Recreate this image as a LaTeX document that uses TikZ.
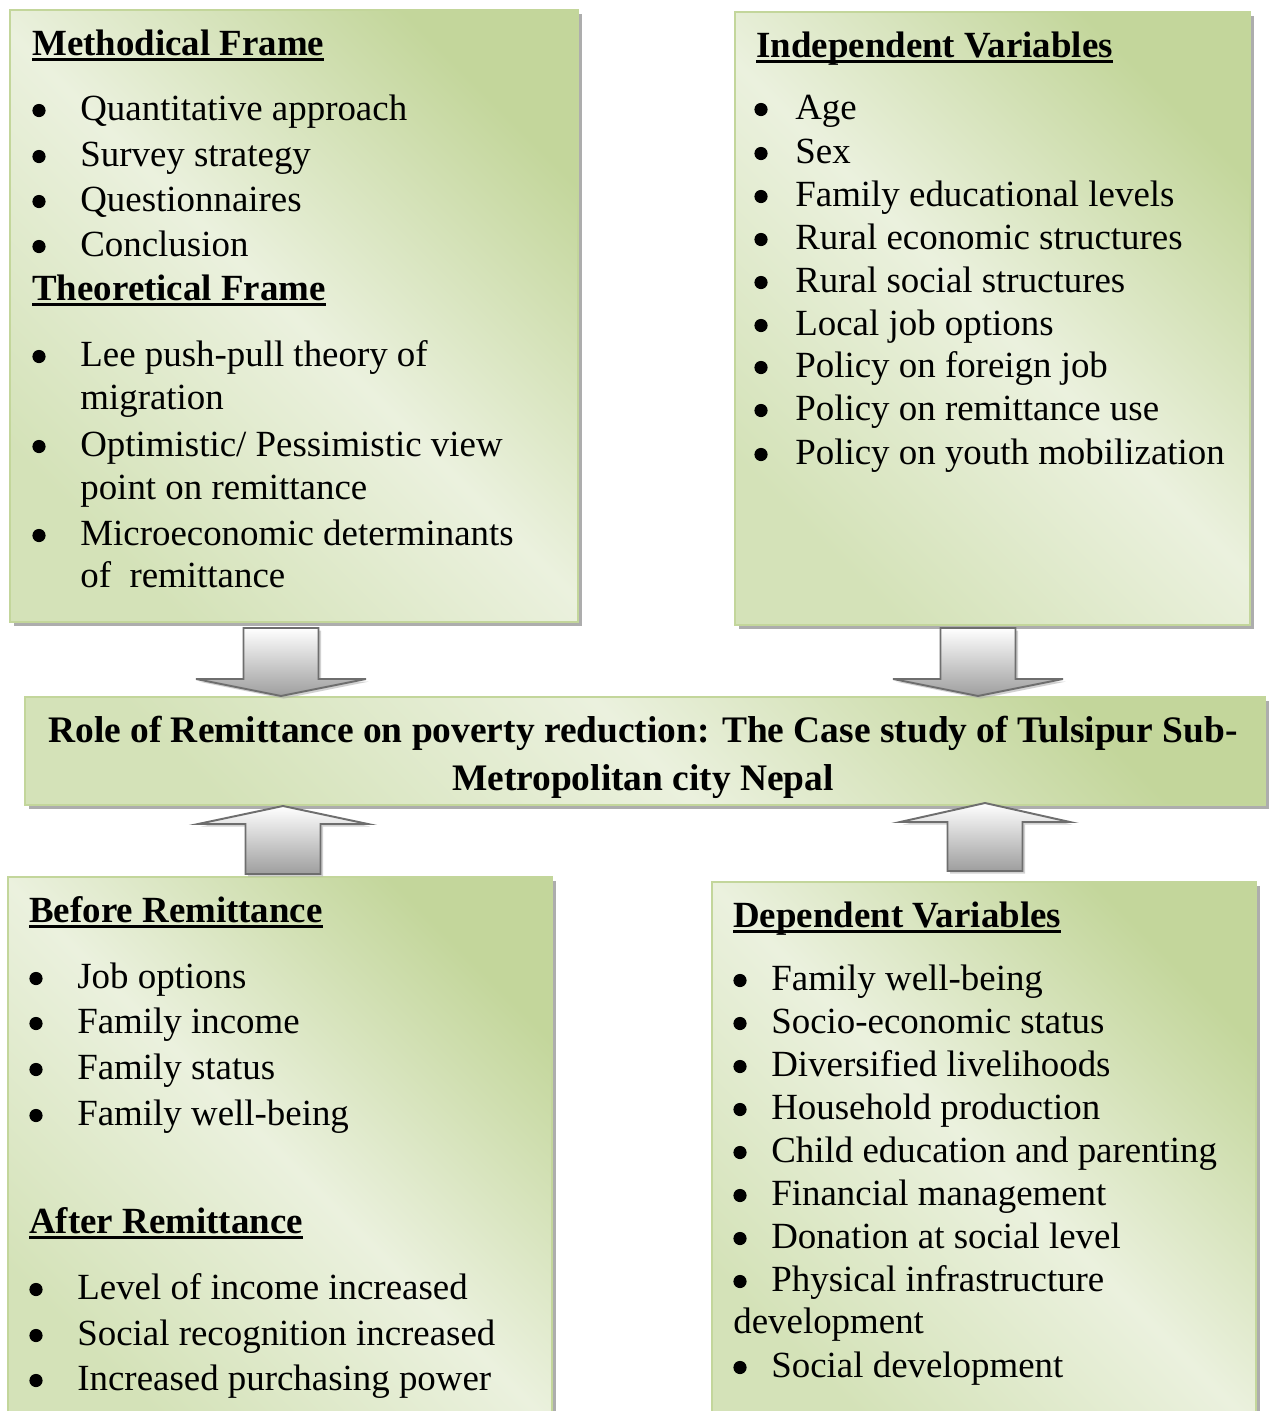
\documentclass[tikz,border=0pt]{standalone}
\usepackage{fontspec}
\setmainfont{Liberation Serif}
\usetikzlibrary{shadows}

\definecolor{olivedark}{HTML}{C3D69B}
\definecolor{olivelight}{HTML}{EBF1DE}
\definecolor{olivemid}{HTML}{D4E2B8}
\definecolor{arrowline}{HTML}{6E6E6E}

\pgfdeclarehorizontalshading{panelfill}{100bp}{color(0bp)=(olivedark); color(25bp)=(olivedark);
  color(50bp)=(olivelight); color(75bp)=(olivemid); color(100bp)=(olivemid)}

% underline at a fixed depth below the baseline
\newsavebox{\headbox}
\newcommand{\uln}[1]{\sbox{\headbox}{#1}\rlap{\rule[-3.2pt]{\wd\headbox}{1.3pt}}\usebox{\headbox}}
% bulleted line: name, bullet x, baseline, text x, text
\newcommand{\itm}[5]{%
  \fill (#2,#3-9.5) circle (6.6);
  \node[txt] (#1) at (#4,#3) {#5};}
% block arrows: centre x, back end, base of head, tip
\newcommand{\downblock}[4]{%
  \draw[bigarrow] (#1-37.5,#2) -- (#1+37.5,#2) -- (#1+37.5,#3) -- (#1+85,#3)
    -- (#1,#4) -- (#1-85,#3) -- (#1-37.5,#3) -- cycle;}
\newcommand{\upblock}[4]{%
  \draw[bigarrow] (#1-37.5,#2) -- (#1+37.5,#2) -- (#1+37.5,#3) -- (#1+85,#3)
    -- (#1,#4) -- (#1-85,#3) -- (#1-37.5,#3) -- cycle;}

\tikzset{
  panel/.style={draw=olivedark,line width=0.8pt,shading=panelfill,shading angle=225,
    drop shadow={shadow xshift=2.5pt,shadow yshift=-2.5pt,fill=black!40,opacity=0.8}},
  bigarrow/.style={draw=arrowline,line width=1.1pt,top color=white,bottom color=black!38,
    drop shadow={shadow xshift=1.5pt,shadow yshift=-1.5pt,fill=black!30,opacity=0.6}},
  txt/.style={anchor=base west,inner sep=0pt,font=\fontsize{21pt}{26pt}\selectfont},
  head/.style={txt,font=\fontsize{21pt}{26pt}\selectfont\bfseries},
  title/.style={anchor=base,inner sep=0pt,font=\fontsize{21.3pt}{26pt}\selectfont\bfseries}
}

\begin{document}
\begin{tikzpicture}[x=0.02cm,y=-0.02cm]
\useasboundingbox (0,0) rectangle (1270,1411);

% the five panels
\path[panel] (10,10) rectangle (578,622);
\path[panel] (735,12) rectangle (1250,625);
\path[panel] (25,697) rectangle (1265,805);
\path[panel] (8,877) rectangle (552,1430);
\path[panel] (712,882) rectangle (1256,1430);

% arrows into the title
\downblock{281}{628}{679}{696}
\downblock{978}{628}{679}{696}
\upblock{283}{874}{824}{806}
\upblock{985}{871}{822}{803}

% methodical / theoretical frame
\node[head] (mfhead) at (32,55) {\uln{Methodical Frame}};
\itm{mf1}{39}{120}{80}{Quantitative approach}
\itm{mf2}{39}{166}{80}{Survey strategy}
\itm{mf3}{39}{211}{80}{Questionnaires}
\itm{mf4}{39}{256}{80}{Conclusion}
\node[head] (tfhead) at (32,300) {\uln{Theoretical Frame}};
\itm{tf1}{39}{366}{80}{Lee push-pull theory of}
\node[txt] (tf1b) at (80,409) {migration};
\itm{tf2}{39}{456}{80}{Optimistic/ Pessimistic view}
\node[txt] (tf2b) at (80,499) {point on remittance};
\itm{tf3}{39}{545}{80}{Microeconomic determinants}
\node[txt] (tf3b) at (80,587) {of\ \ remittance};

% independent variables
\node[head] (ivhead) at (756,57) {\uln{Independent Variables}};
\itm{iv1}{761}{119}{795}{Age}
\itm{iv2}{761}{163}{795}{Sex}
\itm{iv3}{761}{206}{795}{Family educational levels}
\itm{iv4}{761}{249}{795}{Rural economic structures}
\itm{iv5}{761}{292}{795}{Rural social structures}
\itm{iv6}{761}{335}{795}{Local job options}
\itm{iv7}{761}{377}{795}{Policy on foreign job}
\itm{iv8}{761}{420}{795}{Policy on remittance use}
\itm{iv9}{761}{464}{795}{Policy on youth mobilization}

% title
\node[title] (title1) at (643,742) {Role of Remittance on poverty reduction: The Case study of Tulsipur Sub-};
\node[title] (title2) at (643,790) {Metropolitan city Nepal};

% before / after remittance
\node[head] (brhead) at (29,922) {\uln{Before Remittance}};
\itm{br1}{36}{988}{77}{Job options}
\itm{br2}{36}{1033}{77}{Family income}
\itm{br3}{36}{1079}{77}{Family status}
\itm{br4}{36}{1125}{77}{Family well-being}
\node[head] (arhead) at (29,1233) {\uln{After Remittance}};
\itm{ar1}{36}{1299}{77}{Level of income increased}
\itm{ar2}{36}{1345}{77}{Social recognition increased}
\itm{ar3}{36}{1390}{77}{Increased purchasing power}

% dependent variables
\node[head] (dvhead) at (733,927) {\uln{Dependent Variables}};
\itm{dv1}{740}{990}{771}{Family well-being}
\itm{dv2}{740}{1033}{771}{Socio-economic status}
\itm{dv3}{740}{1076}{771}{Diversified livelihoods}
\itm{dv4}{740}{1119}{771}{Household production}
\itm{dv5}{740}{1162}{771}{Child education and parenting}
\itm{dv6}{740}{1205}{771}{Financial management}
\itm{dv7}{740}{1248}{771}{Donation at social level}
\itm{dv8}{740}{1291}{771}{Physical infrastructure}
\node[txt] (dv8b) at (733,1333) {development};
\itm{dv9}{740}{1377}{771}{Social development}

\end{tikzpicture}
\end{document}
